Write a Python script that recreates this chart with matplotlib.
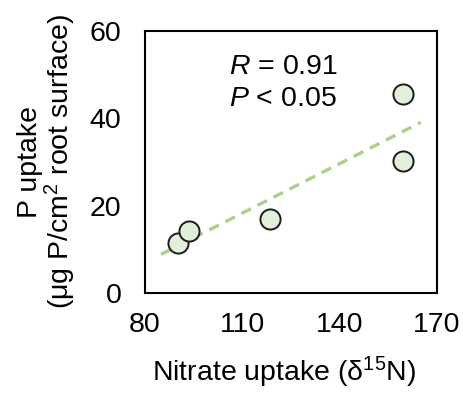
import matplotlib
matplotlib.use("Agg")
import matplotlib.pyplot as plt
import numpy as np

# Data
nitrate_uptake = [90.2, 93.6, 118.5, 159.5, 159.5]   # delta 15N
p_uptake = [11.4, 14.3, 17.0, 45.5, 30.2]            # ug P / cm2 root surface
fit_range = [85, 165]

x_ticks = [80, 110, 140, 170]
y_ticks = [0, 20, 40, 60]

plt.rcParams["font.family"] = ["Liberation Sans", "DejaVu Sans"]
plt.rcParams["font.size"] = 20.5
plt.rcParams["mathtext.fontset"] = "custom"
plt.rcParams["mathtext.rm"] = "Liberation Sans"
plt.rcParams["mathtext.it"] = "Liberation Sans:italic"

fig = plt.figure(figsize=(4.63, 3.96), dpi=100)
ax = fig.add_axes([0.313, 0.26, 0.631, 0.662])

# linear trend
slope, intercept = np.polyfit(nitrate_uptake, p_uptake, 1)
fx = np.array(fit_range)
ax.plot(fx, slope * fx + intercept, ls=(0, (3.2, 2.2)), color="#a9d18e", lw=2.4, zorder=1)

ax.scatter(nitrate_uptake, p_uptake, s=210, facecolor="#e2f0d9", edgecolor="#1a1a1a",
           linewidth=1.4, zorder=2)

ax.text(106, 51.8, "$\\mathit{R}$ = 0.91", va="center", ha="left")
ax.text(106, 44.3, "$\\mathit{P}$ < 0.05", va="center", ha="left")

ax.set_xlim(80, 170)
ax.set_ylim(0, 60)
ax.set_xticks(x_ticks)
ax.set_yticks(y_ticks)
ax.tick_params(length=0)
ax.tick_params(axis="x", pad=14)
ax.tick_params(axis="y", pad=17)
for sp in ax.spines.values():
    sp.set_linewidth(1.5)
    sp.set_color("black")

ax.set_xlabel("Nitrate uptake (δ$^{15}$N)")
ax.xaxis.set_label_coords(0.475, -0.235)
ax.set_ylabel("P uptake\n(μg P/cm$^{2}$ root surface)", labelpad=8, linespacing=1.0)

fig.savefig("out.png", dpi=100)
